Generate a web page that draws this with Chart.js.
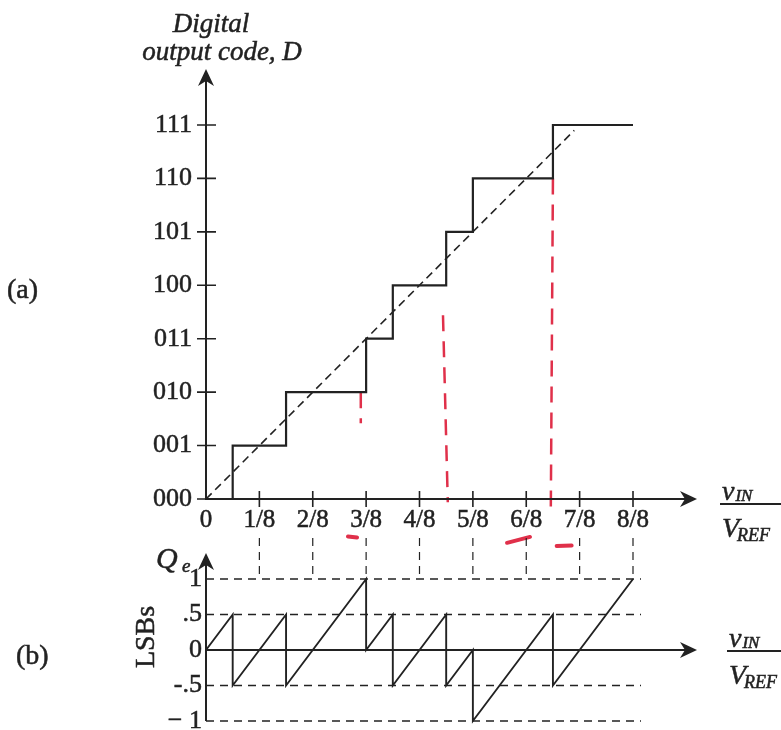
<!DOCTYPE html>
<html>
<head>
<meta charset="utf-8">
<script src="https://cdn.jsdelivr.net/npm/chart.js@4"></script>
<style>
  html, body { margin: 0; padding: 0; background: #fff; }
  #wrap { width: 781px; height: 730px; }
</style>
</head>
<body>
<div id="wrap"><canvas id="adc" width="781" height="730"></canvas></div>
<script>
// (a) 3-bit transfer curve, input in eighths of VREF
const stepX = [0, 0.5, 1.5, 3, 3.5, 4.5, 5, 6.5, 8];
const stepCode = [0, 1, 2, 3, 4, 5, 6, 7, 7];
const idealX = [0, 6.9];
const idealY = [0, 6.9];
const codeLabels = ['000', '001', '010', '011', '100', '101', '110', '111'];
const inputLabels = ['0', '1/8', '2/8', '3/8', '4/8', '5/8', '6/8', '7/8', '8/8'];

// (b) quantization error, LSBs
const qeX = [0, 0.5, 0.5, 1.5, 1.5, 3, 3, 3.5, 3.5, 4.5, 4.5, 5, 5, 6.5, 6.5, 8];
const qeY = [0, 0.5, -0.5, 0.5, -0.5, 1, 0, 0.5, -0.5, 0.5, -0.5, 0, -1, 0.5, -0.5, 1];
const qeTicks = [1, 0.5, 0, -0.5, -1];
const qeTickLabels = ['1', '.5', '0', '-.5', '\u2212 1'];
const qeGuides = [1, 0.5, -0.5, -1];
const guideEnd = 8.15;

// red pen marks on the scan
const redLineX = [[2.9, 2.9], [4.44, 4.53], [6.5, 6.46]];
const redLineY = [[2, 1.42], [3.44, -0.06], [6.0, -0.2]];
const redUnderX = [[2.66, 2.83], [5.64, 6.07], [6.57, 6.85]];
const redUnderY = [[-0.7, -0.72], [-0.82, -0.71], [-0.88, -0.87]];

const INK = '#222';
const RED = '#e0304a';
const SERIF = '"Liberation Serif", "DejaVu Serif", serif';

function pts(xs, ys) {
  return xs.map((v, i) => ({ x: v, y: ys[i] }));
}

const datasets = [];
datasets.push({ data: pts(stepX, stepCode), yAxisID: 'y', stepped: true, borderColor: INK, borderWidth: 2.2 });
datasets.push({ data: pts(idealX, idealY), yAxisID: 'y', borderColor: INK, borderWidth: 1.6, borderDash: [8, 5] });
datasets.push({ data: pts(qeX, qeY), yAxisID: 'y2', borderColor: INK, borderWidth: 1.9 });
qeGuides.forEach(g => {
  datasets.push({ data: pts([0, guideEnd], [g, g]), yAxisID: 'y2', borderColor: INK, borderWidth: 1.3, borderDash: [8, 6] });
});
for (let i = 1; i < inputLabels.length; i++) {
  datasets.push({ data: pts([i, i], [1.07, 1.58]), yAxisID: 'y2', borderColor: INK, borderWidth: 1.2, borderDash: [8, 6] });
}
redLineX.forEach((xs, i) => {
  datasets.push({ data: pts(xs, redLineY[i]), yAxisID: 'y', borderColor: RED, borderWidth: 2.5, borderDash: [16, 10] });
});
redUnderX.forEach((xs, i) => {
  datasets.push({ data: pts(xs, redUnderY[i]), yAxisID: 'y', borderColor: RED, borderWidth: 4, borderCapStyle: 'round' });
});

function arrowHead(ctx, x, y, dir) {
  ctx.save();
  ctx.translate(x, y);
  if (dir === 'up') ctx.rotate(-Math.PI / 2);
  ctx.beginPath();
  ctx.moveTo(0, 0);
  ctx.lineTo(-17, -8);
  ctx.lineTo(-12, 0);
  ctx.lineTo(-17, 8);
  ctx.closePath();
  ctx.fillStyle = INK;
  ctx.fill();
  ctx.restore();
}

// scanned print is heavy, so thicken text a little
function text(ctx, s, x, y) {
  ctx.fillText(s, x, y);
  ctx.strokeText(s, x, y);
}

function fraction(ctx, left, lineY, lineEnd) {
  ctx.textAlign = 'left';
  ctx.textBaseline = 'alphabetic';
  ctx.font = 'italic 28px ' + SERIF;
  text(ctx, 'v', left + 2, lineY - 4);
  const w = ctx.measureText('v').width;
  ctx.font = 'italic 17px ' + SERIF;
  text(ctx, 'IN', left + 2 + w + 1, lineY - 3);
  ctx.font = 'italic 28px ' + SERIF;
  text(ctx, 'V', left + 2, lineY + 33);
  const w2 = ctx.measureText('V').width;
  ctx.font = 'italic 18px ' + SERIF;
  text(ctx, 'REF', left + w2, lineY + 37);
  ctx.lineWidth = 2;
  ctx.beginPath();
  ctx.moveTo(left, lineY);
  ctx.lineTo(lineEnd, lineY);
  ctx.stroke();
  ctx.lineWidth = 0.5;
}

const axesPlugin = {
  id: 'axesPlugin',
  beforeDraw(chart) {
    const ctx = chart.ctx;
    ctx.save();
    ctx.fillStyle = '#fff';
    ctx.fillRect(0, 0, chart.width, chart.height);
    ctx.restore();
  },
  afterDatasetsDraw(chart) {
    const { ctx, scales: { x, y, y2 } } = chart;
    const x0 = x.getPixelForValue(0);
    ctx.save();
    ctx.strokeStyle = INK;
    ctx.fillStyle = INK;
    ctx.lineWidth = 2;

    // (a) axes
    const yTop = 69;
    const xEnd = 697;
    const ya0 = y.getPixelForValue(0);
    ctx.beginPath();
    ctx.moveTo(x0, ya0 + 1);
    ctx.lineTo(x0, yTop + 8);
    ctx.moveTo(x0, ya0);
    ctx.lineTo(xEnd - 8, ya0);
    ctx.stroke();
    arrowHead(ctx, x0, yTop, 'up');
    arrowHead(ctx, xEnd, ya0, 'right');

    ctx.lineWidth = 1.6;
    ctx.beginPath();
    codeLabels.forEach((_, i) => {
      const py = y.getPixelForValue(i);
      ctx.moveTo(x0 - 9, py);
      ctx.lineTo(x0 + 10, py);
    });
    for (let i = 1; i < inputLabels.length; i++) {
      const px = x.getPixelForValue(i);
      ctx.moveTo(px, ya0 - 8);
      ctx.lineTo(px, ya0 + 8);
    }
    ctx.stroke();

    ctx.lineWidth = 0.5;
    ctx.font = '26px ' + SERIF;
    ctx.textAlign = 'right';
    ctx.textBaseline = 'middle';
    codeLabels.forEach((lab, i) => {
      text(ctx, lab, 192, y.getPixelForValue(i));
    });
    ctx.font = '25px ' + SERIF;
    ctx.textAlign = 'center';
    inputLabels.forEach((lab, i) => {
      text(ctx, lab, x.getPixelForValue(i), 520);
    });

    ctx.font = 'italic 27px ' + SERIF;
    ctx.textBaseline = 'alphabetic';
    text(ctx, 'Digital', 211, 32);
    text(ctx, 'output code, D', 222, 60);

    ctx.font = '28px ' + SERIF;
    ctx.textAlign = 'left';
    ctx.textBaseline = 'middle';
    text(ctx, '(a)', 7, 291);
    text(ctx, '(b)', 16, 657);

    fraction(ctx, 720, 504, 781);

    // (b) axes
    const yb0 = y2.getPixelForValue(0);
    const ybBottom = y2.getPixelForValue(-1);
    const qTop = 553;
    ctx.lineWidth = 2;
    ctx.beginPath();
    ctx.moveTo(x0, ybBottom);
    ctx.lineTo(x0, qTop + 8);
    ctx.moveTo(x0, yb0);
    ctx.lineTo(xEnd - 8, yb0);
    ctx.stroke();
    arrowHead(ctx, x0, qTop, 'up');
    arrowHead(ctx, xEnd, yb0, 'right');

    ctx.lineWidth = 0.5;
    ctx.font = '26px ' + SERIF;
    ctx.textAlign = 'right';
    ctx.textBaseline = 'middle';
    qeTicks.forEach((v, i) => {
      text(ctx, qeTickLabels[i], 202, y2.getPixelForValue(v));
    });

    ctx.textAlign = 'left';
    ctx.textBaseline = 'alphabetic';
    ctx.font = 'italic 30px ' + SERIF;
    text(ctx, 'Q', 156, 568);
    ctx.font = 'italic 19px ' + SERIF;
    text(ctx, 'e', 182, 572);

    ctx.save();
    ctx.translate(147, 637);
    ctx.rotate(-Math.PI / 2);
    ctx.font = '28px ' + SERIF;
    ctx.textAlign = 'center';
    ctx.textBaseline = 'middle';
    text(ctx, 'LSBs', 0, 0);
    ctx.restore();

    fraction(ctx, 727, 651, 781);
    ctx.restore();
  }
};

new Chart(document.getElementById('adc'), {
  type: 'scatter',
  data: { datasets: datasets.map(d => Object.assign({ showLine: true, pointRadius: 0, fill: false, tension: 0 }, d)) },
  options: {
    responsive: false,
    animation: false,
    devicePixelRatio: 1,
    layout: { padding: 0 },
    plugins: { legend: { display: false }, tooltip: { enabled: false } },
    events: [],
    scales: {
      x: { type: 'linear', display: false, min: -206 / 53.375, max: 575 / 53.375 },
      y: { type: 'linear', display: false, min: -231 / 53.43, max: 499 / 53.43 },
      y2: { type: 'linear', display: false, min: -80 / 71, max: 650 / 71 }
    }
  },
  plugins: [axesPlugin]
});
</script>
</body>
</html>
